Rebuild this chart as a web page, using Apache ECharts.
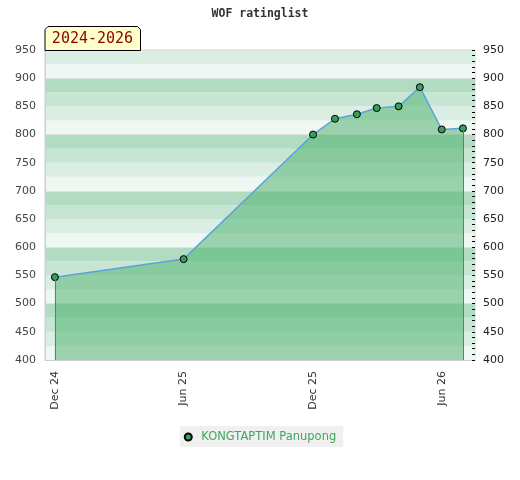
<!DOCTYPE html>
<html>
<head>
<meta charset="utf-8">
<script src="https://cdn.jsdelivr.net/npm/echarts@6/dist/echarts.min.js"></script>
<style>
  html, body { margin: 0; padding: 0; background: #fff; }
  #chart { width: 520px; height: 480px; }
</style>
</head>
<body>
<div id="chart"></div>
<script>
// rating list dates and values
const listDates = ['2024-12-01', '2025-06-01', '2025-12-01', '2026-01-01', '2026-02-01',
  '2026-03-01', '2026-04-01', '2026-05-01', '2026-06-01', '2026-07-01']
const ratings = [547, 579, 800, 828, 836, 847, 850, 884, 809, 811]
const labelDates = ['2024-12-01', '2025-06-01', '2025-12-01', '2026-06-01']
const playerName = 'KONGTAPTIM Panupong'
const yMin = 400
const yMax = 950

const monthNames = ['Jan', 'Feb', 'Mar', 'Apr', 'May', 'Jun', 'Jul', 'Aug', 'Sep', 'Oct', 'Nov', 'Dec']

/** 本地时间戳 */
function toTime(str) {
  const [y, m, d] = str.split('-').map(Number)
  return new Date(y, m - 1, d).getTime()
}

const times = listDates.map(toTime)
const last = times.length - 1

const chart = echarts.init(document.getElementById('chart'))

const axisFont = { fontFamily: 'DejaVu Sans', fontSize: 11 }
const dropLine = { color: '#2f9e55', width: 1, type: 'solid' }

chart.setOption({
  animation: false,
  title: {
    text: 'WOF ratinglist',
    left: 'center',
    top: 3,
    textStyle: { fontFamily: 'DejaVu Sans Mono', fontSize: 11.5, fontWeight: 'bold', color: '#333' }
  },
  grid: {
    left: 45,
    right: 45,
    top: 50,
    bottom: 120,
    show: true,
    borderColor: '#d0d0d0',
    borderWidth: 1
  },
  legend: {
    bottom: 33,
    left: 'center',
    backgroundColor: '#f0f0f0',
    padding: [5, 7, 4, 4],
    itemWidth: 16,
    itemHeight: 7,
    icon: 'circle',
    textStyle: { fontFamily: 'DejaVu Sans', fontSize: 11.5, color: '#3ca85c' },
    data: [playerName]
  },
  xAxis: {
    // 用时间戳的数值轴，便于自定义刻度位置
    type: 'value',
    min: toTime('2024-11-17'),
    max: toTime('2026-07-18'),
    axisLine: { lineStyle: { color: '#cfcfcf' } },
    axisTick: { show: false },
    splitLine: { show: false },
    axisLabel: {
      ...axisFont,
      color: '#333',
      rotate: 90,
      margin: 11,
      customValues: labelDates.map(toTime),
      formatter(value) {
        const d = new Date(value)
        return monthNames[d.getMonth()] + ' ' + String(d.getFullYear()).slice(2)
      }
    }
  },
  yAxis: [
    {
      type: 'value',
      position: 'left',
      min: yMin,
      max: yMax,
      interval: 25,
      axisLine: { show: true, lineStyle: { color: '#cfcfcf' } },
      axisTick: { show: false },
      splitLine: { show: false },
      splitArea: {
        show: true,
        areaStyle: { color: ['#eff7f2', '#dbeee3', '#c6e6d3', '#b2dcc2'] }
      },
      axisLabel: {
        ...axisFont,
        color: '#444',
        margin: 9,
        formatter: v => (v % 50 === 0 ? String(v) : '')
      }
    },
    {
      type: 'value',
      position: 'right',
      min: yMin,
      max: yMax,
      interval: 50,
      axisLine: { show: false },
      axisTick: { show: true, inside: true, length: 3, lineStyle: { color: '#000' } },
      minorTick: { show: true, splitNumber: 5, length: 3, lineStyle: { color: '#000' } },
      splitLine: { show: false },
      axisLabel: { ...axisFont, color: '#222', margin: 8 }
    },
    {
      type: 'value',
      position: 'left',
      min: yMin,
      max: yMax,
      interval: 100,
      axisLine: { show: false },
      axisTick: { show: false },
      axisLabel: { show: false },
      splitLine: { show: true, lineStyle: { color: '#e2e2e2', width: 1 } }
    }
  ],
  graphic: [
    {
      type: 'polygon',
      shape: { points: [[45, 50.5], [45, 29.5], [48, 26.5], [137.5, 26.5], [140.5, 29.5], [140.5, 50.5]] },
      style: { fill: '#ffffcc', stroke: '#000', lineWidth: 1 },
      z: 10
    },
    {
      type: 'text',
      x: 92.5,
      y: 39.5,
      style: {
        text: '2024-2026',
        fill: '#8b0000',
        font: '15px "DejaVu Sans Mono"',
        align: 'center',
        verticalAlign: 'middle'
      },
      z: 11
    }
  ],
  series: [
    {
      name: playerName,
      type: 'line',
      data: times.map((t, i) => [t, ratings[i]]),
      symbol: 'circle',
      symbolSize: 7,
      itemStyle: { color: '#35a05a', borderColor: '#000', borderWidth: 1 },
      lineStyle: { color: '#5da2dd', width: 1.5 },
      areaStyle: { color: '#46ae68', opacity: 0.5, origin: 'start' },
      z: 3,
      markLine: {
        silent: true,
        symbol: 'none',
        label: { show: false },
        lineStyle: dropLine,
        data: [
          [{ coord: [times[0], ratings[0]] }, { coord: [times[0], yMin] }],
          [{ coord: [times[last], ratings[last]] }, { coord: [times[last], yMin] }]
        ]
      }
    }
  ]
})
</script>
</body>
</html>
